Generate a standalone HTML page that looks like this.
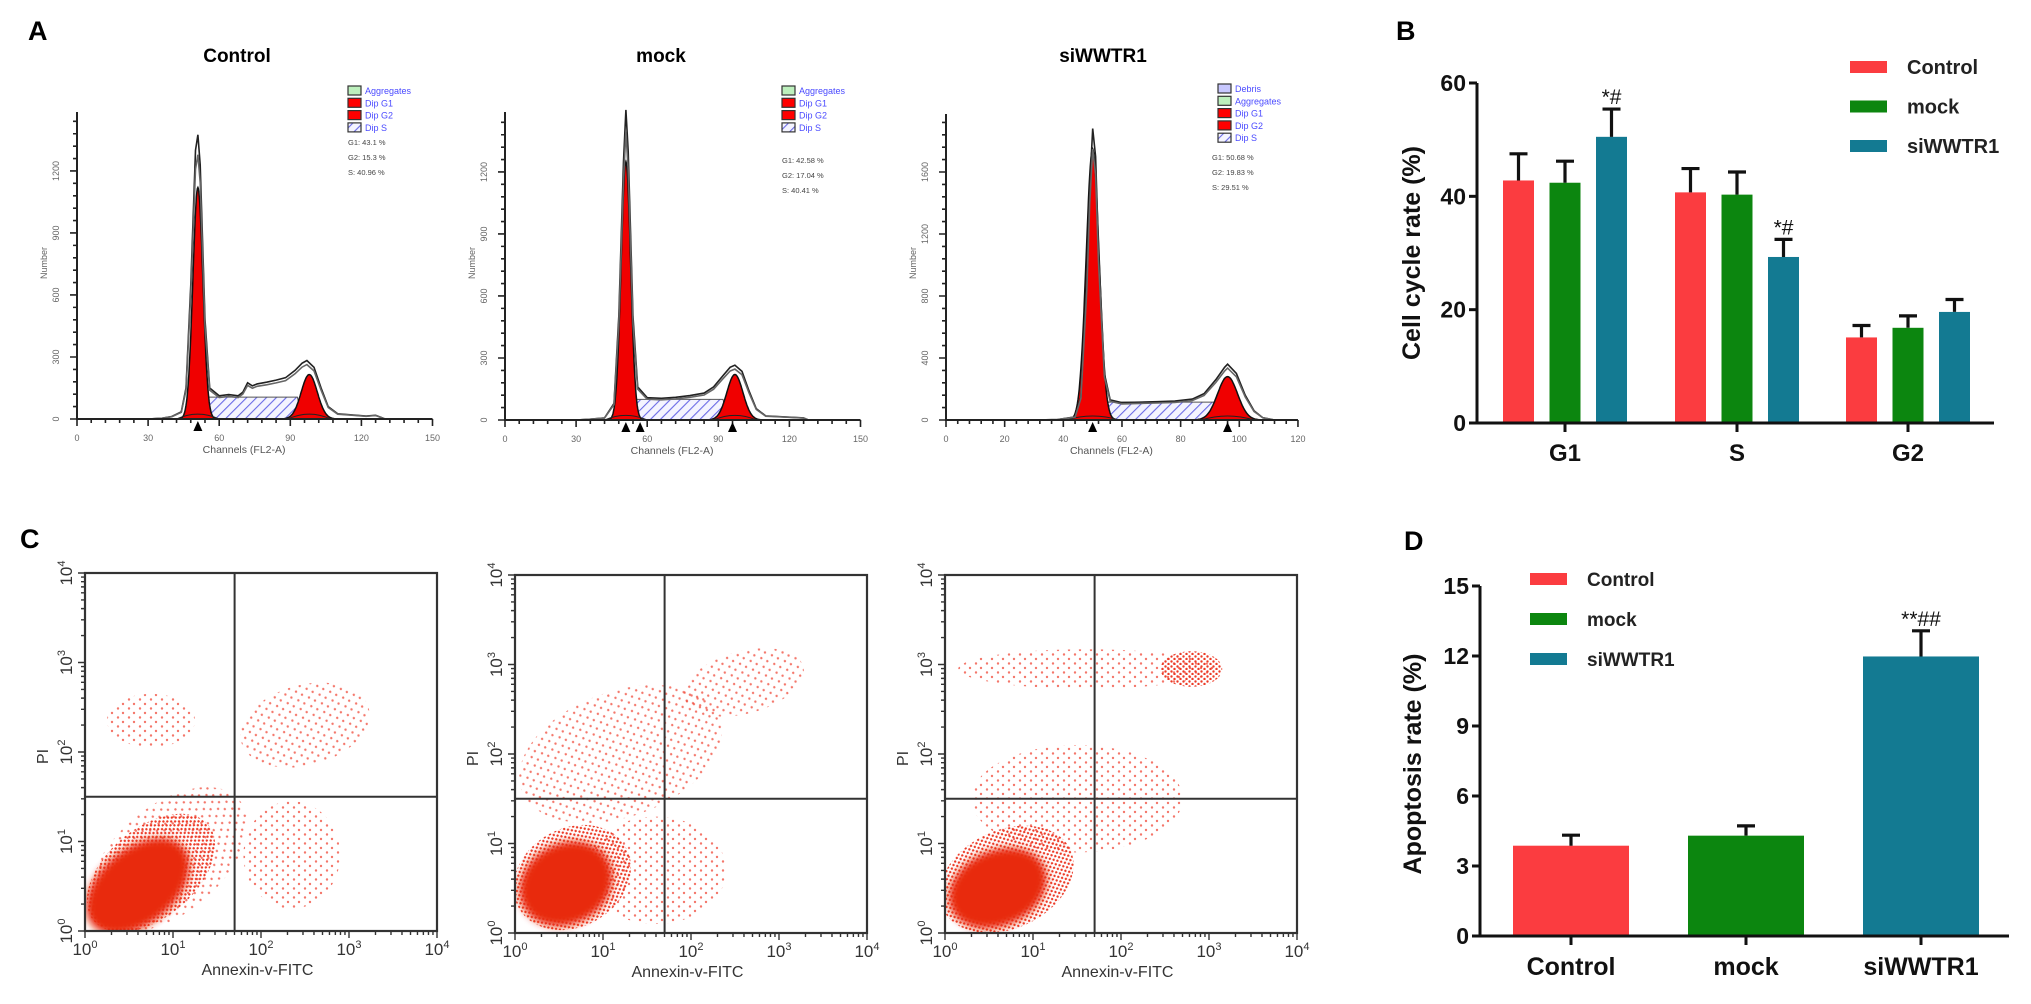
<!DOCTYPE html>
<html><head><meta charset="utf-8"><style>
html,body{margin:0;padding:0;background:#fff;}
svg{display:block;font-family:"Liberation Sans",Arial,sans-serif;}
</style></head><body>
<svg id="fig" xmlns="http://www.w3.org/2000/svg" width="2031" height="1004" viewBox="0 0 2031 1004">
<defs>
<pattern id="hatch" patternUnits="userSpaceOnUse" width="7" height="7" patternTransform="rotate(45)"><rect width="7" height="7" fill="#f4f4ff"/><line x1="0" y1="0" x2="0" y2="7" stroke="#6a6ae6" stroke-width="2.2"/></pattern>
<pattern id="dotsSparse" patternUnits="userSpaceOnUse" width="11" height="9"><circle cx="2" cy="2" r="1.2" fill="#f04a3a"/><circle cx="8" cy="6.5" r="1.2" fill="#f04a3a"/></pattern>
<pattern id="dotsMid" patternUnits="userSpaceOnUse" width="6" height="5"><circle cx="1.5" cy="1.5" r="1.2" fill="#ec3a26"/><circle cx="4.5" cy="4" r="1.2" fill="#ec3a26"/></pattern>
<filter id="soft"><feGaussianBlur stdDeviation="4"/></filter>
</defs>
<text x="28" y="40" font-size="27" font-weight="bold">A</text>
<text x="1396" y="40" font-size="27" font-weight="bold">B</text>
<text x="20" y="548" font-size="27" font-weight="bold">C</text>
<text x="1404" y="550" font-size="27" font-weight="bold">D</text>
<text x="237" y="62" font-size="19" font-weight="bold" text-anchor="middle">Control</text>
<text x="661" y="62" font-size="19" font-weight="bold" text-anchor="middle">mock</text>
<text x="1103" y="62" font-size="19" font-weight="bold" text-anchor="middle">siWWTR1</text>
</svg>
<script>
// ---------- Histogram data (channel, count) ----------
const h1Outline=[[30,0],[36,4],[40,12],[44,35],[46,150],[48,650],[50,1300],[51,1375],[52,1230],[54,480],[56,150],[60,112],[64,118],[68,112],[70,130],[72,175],[74,160],[76,170],[80,178],[84,188],[88,200],[92,235],[95,270],[97,283],[100,250],[103,150],[106,60],[110,25],[116,20],[122,14],[126,18],[130,0]];
const h1Peaks=[[51,2.1,1120],[98,3.4,215]];
const h1S=[53,93,106];
const h1Marks=[51];
const h1Stats=["G1: 43.1 %","G2: 15.3 %","S: 40.96 %"];
const h2Outline=[[30,0],[36,4],[42,10],[46,80],[48,500],[50,1250],[51,1500],[52,1300],[54,500],[56,160],[60,108],[66,105],[72,110],[78,118],[84,130],[88,160],[92,215],[95,255],[97,265],[100,235],[103,140],[106,55],[110,20],[118,15],[126,10],[128,0]];
const h2Peaks=[[51,2.0,1250],[97,3.4,220]];
const h2S=[53,92,100];
const h2Marks=[51,57,96];
const h2Stats=["G1: 42.58 %","G2: 17.04 %","S: 40.41 %"];
const h3Outline=[[30,0],[38,3],[44,20],[46,150],[48,900],[49,1500],[50,1880],[51,1700],[52,1100],[54,300],[56,130],[60,112],[66,115],[72,118],[78,122],[84,135],[88,170],[92,260],[95,340],[96,360],[99,300],[102,160],[105,60],[108,15],[112,0]];
const h3Peaks=[[50,2.2,1750],[96,3.4,280]];
const h3S=[52,92,115];
const h3Marks=[50,96];
const h3Stats=["G1: 50.68 %","G2: 19.83 %","S: 29.51 %"];

// ---------- Scatter clusters: [log10 x, log10 y, rx, ry (decades), rotation deg, kind] ----------
const sc1Clusters=[[0.95,0.8,1.05,0.6,-40,"sparse"],[0.75,2.35,0.5,0.3,0,"sparse"],[2.5,2.3,0.75,0.45,-15,"sparse"],[2.35,0.85,0.55,0.6,0,"sparse"],[0.75,0.65,0.85,0.5,-40,"mid"],[0.6,0.5,0.68,0.42,-40,"dense"]];
const sc2Clusters=[[1.2,2.0,1.2,0.7,-20,"sparse"],[2.6,2.8,0.7,0.35,-15,"sparse"],[1.6,0.7,0.8,0.6,0,"sparse"],[0.65,0.62,0.7,0.55,-30,"mid"],[0.58,0.55,0.55,0.45,-30,"dense"]];
const sc3Clusters=[[1.6,2.95,1.45,0.22,0,"sparse"],[2.8,2.95,0.35,0.2,0,"mid"],[1.5,1.5,1.2,0.6,0,"sparse"],[0.7,0.6,0.8,0.55,-25,"mid"],[0.6,0.5,0.58,0.42,-25,"dense"]];

// ---------- Bar chart data ----------
const bPhases=["G1","S","G2"];
const bGroups=["Control","mock","siWWTR1"];
const bControl=[42.8,40.7,15.1];
const bMock=[42.4,40.3,16.8];
const bSi=[50.5,29.3,19.6];
const bControlErr=[4.7,4.2,2.1];
const bMockErr=[3.8,4.0,2.1];
const bSiErr=[4.9,3.1,2.2];
const bSiNote=["*#","*#",""];
const bTicks=[0,20,40,60];
const dCats=["Control","mock","siWWTR1"];
const dVals=[3.87,4.3,11.98];
const dErr=[0.45,0.42,1.1];
const dNotes=["","","**##"];
const dTicks=[0,3,6,9,12,15];
const colors=["#fb3c40","#0c860f","#137a92"];

const NS="http://www.w3.org/2000/svg";
const svg=document.getElementById("fig");
function mk(tag,attrs,parent){const e=document.createElementNS(NS,tag);for(const k in attrs)e.setAttribute(k,attrs[k]);(parent||svg).appendChild(e);return e;}

// ---------- Histogram ----------
function hist(o){
  const g=mk("g",{});
  
  
  const X=c=>o.x0+c*o.cs, Y=v=>o.y0-v*o.ys;
  const s=o.S;
  const sp=mk("path",{d:`M${X(s[0]-2)},${Y(0)} L${X(s[0])},${Y(s[2])} L${X(s[1])},${Y(s[2])} L${X(s[1]+2)},${Y(0)} Z`,fill:"url(#hatch)",stroke:"#555","stroke-width":1},g);
  
  
  o.peaks.forEach(p=>{
    let d=`M${X(p[0]-4*p[1])},${Y(0)}`;
    for(let c=p[0]-4*p[1];c<=p[0]+4*p[1];c+=0.2){d+=` L${X(c).toFixed(1)},${Y(p[2]*Math.exp(-0.5*((c-p[0])/p[1])**2)).toFixed(1)}`;}
    d+=` L${X(p[0]+4*p[1])},${Y(0)} Z`;
    const pk=mk("path",{d,fill:"#f00000",stroke:"#111","stroke-width":1.5},g);
    
    
    const tl=mk("path",{d:`M${X(p[0]-9)},${Y(0)} Q${X(p[0])},${Y(s[2]*0.45)} ${X(p[0]+9)},${Y(0)}`,fill:"none",stroke:"#222","stroke-width":1},g);
    
    
  });
  [[1,0],[0.93,3]].forEach(([k,dx])=>{
    const d=o.outline.map((p,i)=>(i?"L":"M")+X(p[0]).toFixed(1)+","+Y(p[1]*k).toFixed(1)).join(" ");
    const ol=mk("path",{d,fill:"none",stroke:k===1?"#222":"#666","stroke-width":1.6},g);
    
    
  });
  const ax=mk("path",{d:`M${o.x0},${o.ytop} L${o.x0},${o.y0} L${X(o.cmax)},${o.y0}`,fill:"none",stroke:"#222","stroke-width":2},g);
  
  
  let tk="";
  for(let c=0;c<=o.cmax;c+=o.cminor){const mj=c%o.cmajor===0;tk+=`M${X(c)},${o.y0} L${X(c)},${o.y0+(mj?7:4)} `;}
  for(let v=0;Y(v)>=o.ytop;v+=o.yminor){const mj=v%o.ymajor===0;tk+=`M${o.x0},${Y(v)} L${o.x0-(mj?7:4)},${Y(v)} `;}
  const tp=mk("path",{d:tk,stroke:"#222","stroke-width":1.6},g);
  
  
  for(let c=0;c<=o.cmax;c+=o.cmajor){const t=mk("text",{x:X(c),y:o.y0+22,"font-size":9,fill:"#666","text-anchor":"middle"},g);t.textContent=c;
    
    }
  for(let v=0;Y(v)>=o.ytop;v+=o.ymajor){const t=mk("text",{x:o.x0-18,y:Y(v),"font-size":9,fill:"#666","text-anchor":"middle",transform:`rotate(-90 ${o.x0-18} ${Y(v)})`},g);t.textContent=v;
    
    }
  const xl=mk("text",{x:X(o.cmax*0.47),y:o.y0+34,"font-size":10.5,fill:"#555","text-anchor":"middle"},g);xl.textContent="Channels (FL2-A)";
  
  
  const yl=mk("text",{x:o.x0-30,y:263,"font-size":9,fill:"#666","text-anchor":"middle",transform:`rotate(-90 ${o.x0-30} 263)`},g);yl.textContent="Number";
  
  
  o.marks.forEach(c=>{const m=mk("path",{d:`M${X(c)-4.5},${o.y0+12} L${X(c)},${o.y0+2} L${X(c)+4.5},${o.y0+12} Z`,fill:"#000"},g);
    
    });
  o.legend.forEach((L,i)=>{const y=o.ly+i*12.3;
    const r=mk("rect",{x:o.lx,y:y-8,width:13,height:9,fill:L[1],stroke:"#333","stroke-width":1.2},g);
    
    
    const t=mk("text",{x:o.lx+17,y:y,"font-size":9,fill:"#4a4aff"},g);t.textContent=L[0];
    
    });
  o.stats.forEach((s,i)=>{const t=mk("text",{x:o.sx,y:o.sy+i*15,"font-size":7.5,fill:"#444"},g);t.textContent=s;
    
    });
}
const L4=[["Aggregates","#bdf0bd"],["Dip G1","#ff0000"],["Dip G2","#ff0000"],["Dip S","url(#hatch)"]];
hist({name:"histogram-control",x0:77,y0:419,cs:2.37,cmax:150,ys:0.2067,ytop:112,cmajor:30,cminor:6,ymajor:300,yminor:60,outline:h1Outline,peaks:h1Peaks,S:h1S,marks:h1Marks,legend:L4,lx:348,ly:94,stats:h1Stats,sx:348,sy:145});
hist({name:"histogram-mock",x0:505,y0:420,cs:2.37,cmax:150,ys:0.2067,ytop:112,cmajor:30,cminor:6,ymajor:300,yminor:60,outline:h2Outline,peaks:h2Peaks,S:h2S,marks:h2Marks,legend:L4,lx:782,ly:94,stats:h2Stats,sx:782,sy:163});
hist({name:"histogram-siwwtr1",x0:946,y0:420,cs:2.933,cmax:120,ys:0.155,ytop:114,cmajor:20,cminor:4,ymajor:400,yminor:80,outline:h3Outline,peaks:h3Peaks,S:h3S,marks:h3Marks,legend:[["Debris","#c8c8ff"]].concat(L4),lx:1218,ly:92,stats:h3Stats,sx:1212,sy:160});

// ---------- Scatter ----------
function scatter(name,x0,y0,w,h,qx,qy,clusters){
  const g=mk("g",{});
  
  
  const dx=w/4,dy=h/4,X=v=>x0+v*dx,Y=v=>y0+h-v*dy;
  const cp=mk("clipPath",{id:name+"-clip"},g);mk("rect",{x:x0,y:y0,width:w,height:h},cp);
  const cg=mk("g",{"clip-path":`url(#${name}-clip)`},g);
  clusters.forEach(c=>{
    const fill=c[5]==="dense"?"#e82a0e":c[5]==="mid"?"url(#dotsMid)":"url(#dotsSparse)";
    const e=mk("ellipse",{cx:X(c[0]),cy:Y(c[1]),rx:c[2]*dx,ry:c[3]*dy,fill,transform:`rotate(${c[4]} ${X(c[0])} ${Y(c[1])})`,opacity:c[5]==="sparse"?0.75:1},cg);
    if(c[5]==="dense")e.setAttribute("filter","url(#soft)");
    
    
  });
  const bx=mk("rect",{x:x0,y:y0,width:w,height:h,fill:"none",stroke:"#333","stroke-width":2.2},g);
  
  
  const q=mk("path",{d:`M${X(qx)},${y0} L${X(qx)},${y0+h} M${x0},${Y(qy)} L${x0+w},${Y(qy)}`,stroke:"#333","stroke-width":2},g);
  
  
  let tk="";
  for(let d=0;d<4;d++)for(let m=1;m<=10;m++){const v=d+Math.log10(m);const len=m===1||m===10?7:4;
    tk+=`M${X(v)},${y0+h} L${X(v)},${y0+h+len} M${x0},${Y(v)} L${x0-len},${Y(v)} `;}
  const tp=mk("path",{d:tk,stroke:"#333","stroke-width":1.4},g);
  
  
  for(let d=0;d<=4;d++){
    const t=mk("text",{x:X(d),y:y0+h+24,"font-size":17,fill:"#333","text-anchor":"middle"},g);
    t.innerHTML=`10<tspan dy="-7" font-size="11">${d}</tspan>`;
    
    
    const ty=mk("text",{x:x0-13,y:Y(d),"font-size":17,fill:"#333","text-anchor":"middle",transform:`rotate(-90 ${x0-13} ${Y(d)})`},g);
    ty.innerHTML=`10<tspan dy="-7" font-size="11">${d}</tspan>`;
    
    
  }
  const xl=mk("text",{x:x0+w*0.49,y:y0+h+44,"font-size":16,fill:"#333","text-anchor":"middle"},g);xl.textContent="Annexin-v-FITC";
  
  
  const yl=mk("text",{x:x0-37,y:Y(1.95),"font-size":16,fill:"#333","text-anchor":"middle",transform:`rotate(-90 ${x0-37} ${Y(1.95)})`},g);yl.textContent="PI";
  
  
}
scatter("scatter-control",85,573,352,358,1.7,1.5,sc1Clusters);
scatter("scatter-mock",515,575,352,358,1.7,1.5,sc2Clusters);
scatter("scatter-siwwtr1",945,575,352,358,1.7,1.5,sc3Clusters);

// ---------- Bar chart helper ----------
function axisY(g,x,y0,ys,ticks){
  const a=mk("path",{d:`M${x},${y0-ticks[ticks.length-1]*ys} L${x},${y0}`,stroke:"#111","stroke-width":3},g);
  
  
  ticks.forEach(v=>{const y=y0-v*ys;
    const l=mk("line",{x1:x-8,x2:x,y1:y,y2:y,stroke:"#111","stroke-width":3},g);
    
    
    const t=mk("text",{x:x-11,y:y+8,"font-size":23,"font-weight":"bold","text-anchor":"end",fill:"#111"},g);t.textContent=v;
    
    });
}
function bar(g,cx,w,y0,ys,v,err,color,note,name){
  const r=mk("rect",{x:cx-w/2,y:y0-v*ys,width:w,height:v*ys,fill:color},g);
  
  
  const ey=y0-(v+err)*ys;
  const e=mk("path",{d:`M${cx},${y0-v*ys} L${cx},${ey} M${cx-9},${ey} L${cx+9},${ey}`,stroke:"#111","stroke-width":3.2},g);
  
  
  if(note){const t=mk("text",{x:cx,y:ey-5,"font-size":21,"text-anchor":"middle",fill:"#111"},g);t.textContent=note;
    
    }
}
// Panel B
(function(){
  const g=mk("g",{});
  
  
  const x0=1477,y0=423,ys=(423-83)/60;
  const centers=[1565,1737,1908];
  const series=[bControl,bMock,bSi],errs=[bControlErr,bMockErr,bSiErr];
  bPhases.forEach((p,i)=>{
    series.forEach((s,j)=>bar(g,centers[i]+(j-1)*46.5,31,y0,ys,s[i],errs[j][i],colors[j],j===2?bSiNote[i]:"","bar-"+p.toLowerCase()+"-"+bGroups[j].toLowerCase()));
    const tk=mk("line",{x1:centers[i],x2:centers[i],y1:y0,y2:y0+9,stroke:"#111","stroke-width":3},g);
    
    
    const t=mk("text",{x:centers[i],y:y0+38,"font-size":24,"font-weight":"bold","text-anchor":"middle",fill:"#111"},g);t.textContent=p;
    
    
  });
  const xa=mk("line",{x1:x0,x2:1994,y1:y0,y2:y0,stroke:"#111","stroke-width":3},g);
  
  
  axisY(g,x0,y0,ys,bTicks);
  const yl=mk("text",{x:1420,y:253,"font-size":25,"font-weight":"bold","text-anchor":"middle",fill:"#111",transform:"rotate(-90 1420 253)"},g);yl.textContent="Cell cycle rate (%)";
  
  
  bGroups.forEach((n,j)=>{const y=67+j*39.5;
    const r=mk("rect",{x:1850,y:y-6,width:37,height:12,fill:colors[j]},g);
    
    
    const t=mk("text",{x:1907,y:y+7,"font-size":20,"font-weight":"bold",fill:"#222"},g);t.textContent=n;
    
    });
})();
// Panel D
(function(){
  const g=mk("g",{});
  
  
  const x0=1480,y0=936,ys=(936-586)/15;
  const centers=[1571,1746,1921];
  dCats.forEach((c,i)=>{
    bar(g,centers[i],116,y0,ys,dVals[i],dErr[i],colors[i],dNotes[i],"bar-"+c.toLowerCase());
    const tk=mk("line",{x1:centers[i],x2:centers[i],y1:y0,y2:y0+9,stroke:"#111","stroke-width":3},g);
    
    
    const t=mk("text",{x:centers[i],y:y0+39,"font-size":25,"font-weight":"bold","text-anchor":"middle",fill:"#111"},g);t.textContent=c;
    
    
  });
  const xa=mk("line",{x1:x0,x2:2009,y1:y0,y2:y0,stroke:"#111","stroke-width":3},g);
  
  
  axisY(g,x0,y0,ys,dTicks);
  const yl=mk("text",{x:1421,y:764,"font-size":25,"font-weight":"bold","text-anchor":"middle",fill:"#111",transform:"rotate(-90 1421 764)"},g);yl.textContent="Apoptosis rate (%)";
  
  
  dCats.forEach((n,j)=>{const y=579+j*40;
    const r=mk("rect",{x:1530,y:y-6,width:37,height:12,fill:colors[j]},g);
    
    
    const t=mk("text",{x:1587,y:y+7,"font-size":19,"font-weight":"bold",fill:"#222"},g);t.textContent=n;
    
    });
})();
</script>
</body></html>
